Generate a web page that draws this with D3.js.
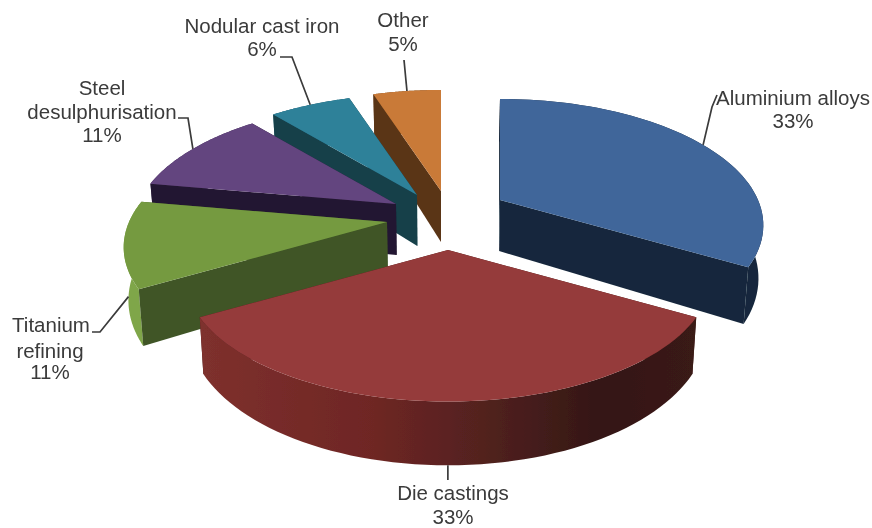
<!DOCTYPE html>
<html><head><meta charset="utf-8">
<script src="https://cdn.jsdelivr.net/npm/d3@7"></script>
<style>html,body{margin:0;background:#fff}svg{display:block}</style></head>
<body><svg id="c" width="872" height="528"></svg>
<script>
const categories=["Aluminium alloys","Die castings","Titanium refining","Steel desulphurisation","Nodular cast iron","Other"];
const values=[33,33,11,11,6,5];
const labelLines=[["Aluminium alloys","33%"],["Die castings","33%"],["Titanium","refining","11%"],["Steel","desulphurisation","11%"],["Nodular cast iron","6%"],["Other","5%"]];
const topColors=["#40669a","#953a3a","#759a41","#64457f","#2f8199","#c97a37"];
const sideColors=["#16283c","#4a1f1d","#3f5526","#241832","#15404a","#5a3418"];
const rimColors=["#16283c","url(#dieRim)","#7fa648","#3a2850","#1c5a6c","#7a4a20"];

// layout
const W=872,H=528,R=258,K=0.47,RHO=0.2,DEPTH=51,VX=440,VS=0.985;
const anchors=[[500,200],[448,250],[387,222],[396,204],[417,195],[441,191]];
const drawOrder=[5,4,3,0,2,1];
const leaders=[
 {drop:false,pts:[[712,107],[717,95]]},
 {drop:true,pts:[[480]]},
 {drop:true,pts:[[100,332],[92,332]]},
 {drop:false,pts:[[188,118],[178,118]]},
 {drop:false,pts:[[292,57],[280,57]]},
 {drop:false,pts:[[404,60]]}
];
const labelPos=[
 [[793,105],[793,128]],
 [[453,500],[453,523.5]],
 [[51,332],[50,358],[50,379]],
 [[102,95],[102,119],[102,142]],
 [[262,33],[262,56]],
 [[403,27],[403,51]]
];

const svg=d3.select("#c");
const defs=svg.append("defs");
const g0=defs.append("linearGradient").attr("id","dieRim").attr("gradientUnits","userSpaceOnUse")
 .attr("x1",203).attr("x2",697).attr("y1",0).attr("y2",0);
[[0,"#7e302d"],[0.35,"#6e2624"],[0.6,"#4e201e"],[0.8,"#341715"],[1,"#3a1a17"]].forEach(s=>g0.append("stop").attr("offset",s[0]).attr("stop-color",s[1]));
defs.append("filter").attr("id","soft").attr("x",0).attr("y",0).attr("width",1).attr("height",1)
 .append("feGaussianBlur").attr("stdDeviation",0.7);
const root=svg.append("g").attr("filter","url(#soft)");

const arcs=d3.pie().sort(null).value(d=>d)(values);
const line=d3.line();

function project(i,a,r,lower){
  const u=Math.sin(a)*r*R, v=-Math.cos(a)*r*R;
  const s=1/(1-RHO*v/R);
  let x=anchors[i][0]+u*s, y=anchors[i][1]+v*K*s;
  if(lower){ x=VX+(x-VX)*VS; y+=DEPTH*s; }
  return [x,y];
}
function arcPts(i,a0,a1,lower){
  return d3.range(0,61).map(t=>project(i,a0+(a1-a0)*t/60,1,lower));
}
drawOrder.forEach(i=>{
  const d=arcs[i], g=root.append("g");
  const topArc=arcPts(i,d.startAngle,d.endAngle,false), lowArc=arcPts(i,d.startAngle,d.endAngle,true);
  const ap=project(i,0,0,false), apL=project(i,0,0,true);
  const wall=a=>g.append("path").attr("d",line([ap,project(i,a,1,false),project(i,a,1,true),apL])+"Z").attr("fill",sideColors[i]);
  const startFront=-Math.sin(d.startAngle)>0, endFront=Math.sin(d.endAngle)>0;
  if(!startFront) wall(d.startAngle);
  if(!endFront) wall(d.endAngle);
  g.append("path").attr("d",line(topArc.concat(lowArc.slice().reverse()))+"Z").attr("fill",rimColors[i]);
  if(startFront) wall(d.startAngle);
  if(endFront) wall(d.endAngle);
  g.append("path").attr("d",line([ap].concat(topArc))+"Z").attr("fill",topColors[i]);
});
// leaders
arcs.forEach((d,i)=>{
  const mid=(d.startAngle+d.endAngle)/2, l=leaders[i];
  const start=project(i,mid,1,l.drop);
  const pts=[start].concat(l.pts.map(p=>p.length===1?[start[0],p[0]]:p));
  root.append("path").attr("d",line(pts)).attr("fill","none").attr("stroke","#3a3a3a").attr("stroke-width",1.7);
});
// labels
labelLines.forEach((lines,i)=>lines.forEach((t,j)=>{
  root.append("text").attr("x",labelPos[i][j][0]).attr("y",labelPos[i][j][1]).attr("text-anchor","middle")
   .attr("font-family","Liberation Sans, Arial, sans-serif").attr("font-size",20.5).attr("fill","#3a3a3a").text(t);
}));
</script></body></html>
